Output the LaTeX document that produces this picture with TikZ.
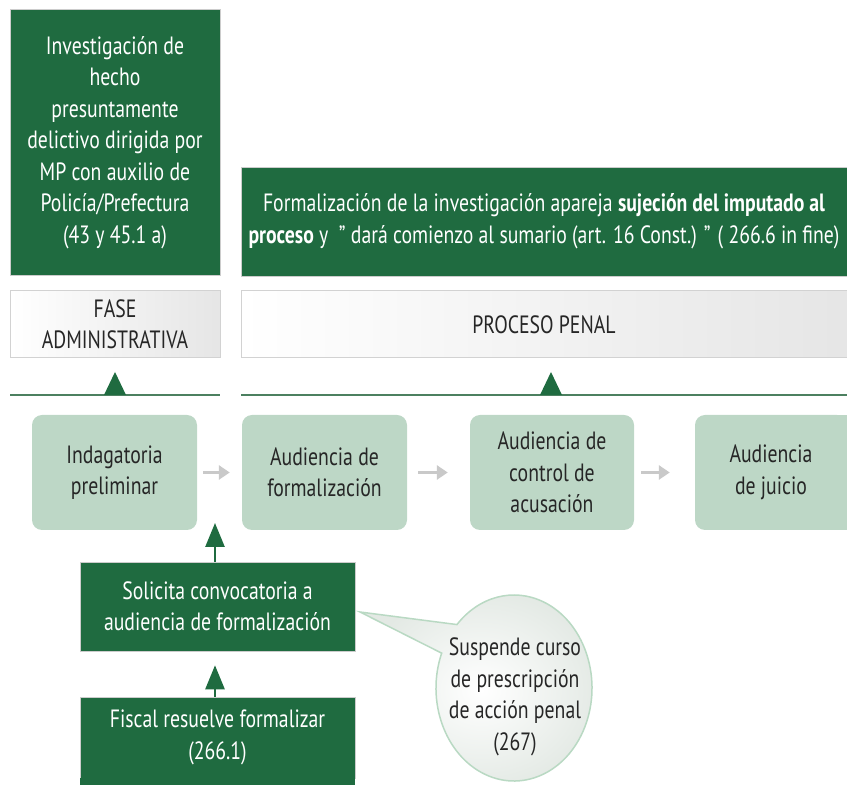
\documentclass[tikz,border=0pt]{standalone}
\usepackage{fontspec}
\setmainfont{PT Sans}[FakeStretch=0.79]
\usetikzlibrary{arrows.meta,calc}
\definecolor{dkgreen}{HTML}{1F6B40}
\definecolor{ltgreen}{HTML}{BDD7C6}
\definecolor{arrgray}{HTML}{C9C9C9}
\definecolor{linegreen}{HTML}{4C8060}
\definecolor{barborder}{HTML}{D2D2D2}
\definecolor{bubedge}{HTML}{B9D9C3}
\definecolor{bubout}{HTML}{E3E9E4}
\begin{document}
\begin{tikzpicture}[x=1pt,y=1pt,
  txt/.style={font=\fontsize{25}{31.5}\selectfont, align=center},
  darkbox/.style={txt, fill=dkgreen, draw=black!20, line width=0.6, text=white, inner sep=0},
  phasebar/.style={txt, shading=axis, left color=white, right color=black!10, draw=barborder, line width=1, text=black!85, inner sep=0},
  stagebox/.style={txt, fill=ltgreen, rounded corners=10, text=black!85, inner sep=0, minimum height=115},
  grayarrow/.style={draw=arrgray, line width=3.2, -{Triangle[width=14,length=11]}},
  greenarrow/.style={draw=dkgreen, line width=2.6, -{Triangle[width=19,length=24]}},
  phaseline/.style={draw=linegreen, line width=2},
  marker/.style={fill=dkgreen}
]
\useasboundingbox (0,0) rectangle (847,785);

% top boxes
\node[darkbox, minimum width=210, minimum height=266] (inv) at (115,642.5)
  {Investigación de\\hecho\\presuntamente\\delictivo dirigida por\\MP con auxilio de\\Policía/Prefectura\\(43 y 45.1 a)};
\node[darkbox, minimum width=609, minimum height=109] (form) at (545.5,563.5)
  {\hspace*{-3pt}Formalización de la investigación apareja \textbf{sujeción del imputado al}\\\hspace*{-3pt}\textbf{proceso} y \ ” dará comienzo al sumario (art. 16 Const.) ” ( 266.6 in fine)};

% phase bars
\node[phasebar, minimum width=210, minimum height=67] (adm) at (115,460.5) {FASE\\ADMINISTRATIVA};
\node[phasebar, minimum width=609, minimum height=67] (pen) at (545.5,460.5) {\hspace*{-3pt}PROCESO PENAL};

% phase lines with markers
\draw[phaseline] (10,390) -- (220,390);
\draw[phaseline] (241,390) -- (847,390);
\fill[marker] (104,390) -- (115,413) -- (126,390) -- cycle;
\fill[marker] (540,390) -- (551,413) -- (562,390) -- cycle;

% stage boxes
\node[stagebox, minimum width=165] (ind) at (114.5,312.5) {Indagatoria\\preliminar};
\node[stagebox, minimum width=165] (aud) at (324.5,312.5) {Audiencia de\\formalización};
\node[stagebox, minimum width=164] (acu) at (552,312.5) {Audiencia de\\control de\\acusación};
\node[stagebox, minimum width=152] (jui) at (771,312.5) {Audiencia\\de juicio};
\fill[ltgreen] ($(jui.north east)+(-14,0)$) rectangle ($(jui.south east)+(12,0)$);

\draw[grayarrow, shorten <=6, shorten >=12] (ind) -- (aud);
\draw[grayarrow, shorten <=11, shorten >=22] (aud) -- (acu);
\draw[grayarrow, shorten <=7, shorten >=25] (acu) -- (jui);

% bottom boxes
\node[darkbox, minimum width=275, minimum height=89] (sol) at (217.5,178.5)
  {Solicita convocatoria a\\audiencia de formalización};
\node[darkbox, minimum width=275, minimum height=81] (fis) at (217.5,47.5)
  {Fiscal resuelve formalizar\\(266.1)};
\fill[dkgreen] ($(fis.south west)+(0.3,0.5)$) rectangle ($(fis.south east)+(-0.3,-10)$);
\coordinate (up) at (215,262);
\draw[greenarrow] (sol.north -| up) -- (up);
\draw[greenarrow, shorten >=14] (fis.north -| up) -- (sol.south -| up);

% speech bubble
\coordinate (tip) at (360,173);
\path[shading=radial, inner color=white, outer color=bubout, draw=bubedge, line width=1.5]
  (tip) -- ($(514,97)+(158:78 and 93)$) arc[start angle=158, end angle=497, x radius=78, y radius=93] -- cycle;
\node[txt, text=black!85] (bub) at (515,88) {Suspende curso\\de prescripción\\de acción penal\\(267)};
\end{tikzpicture}
\end{document}
